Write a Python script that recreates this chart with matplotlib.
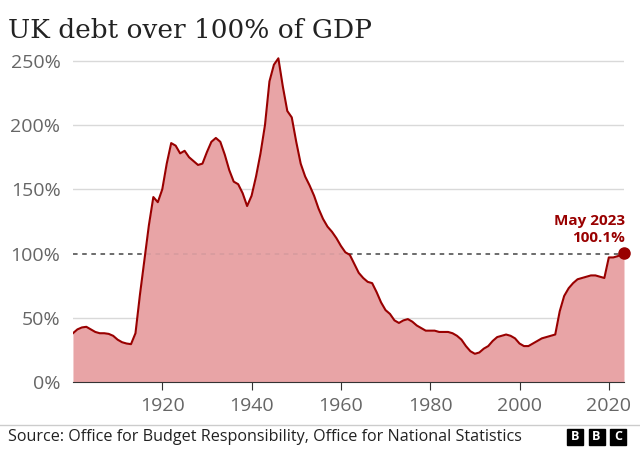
import matplotlib
matplotlib.use("Agg")
import matplotlib.pyplot as plt
from matplotlib.patches import Rectangle

plt.rcParams['font.family'] = ['Open Sans', 'DejaVu Sans']

# UK public sector net debt, % of GDP
years = [1900, 1901, 1902, 1903, 1904, 1905, 1906, 1907, 1908, 1909,
         1910, 1911, 1912, 1913, 1914, 1915, 1916, 1917, 1918, 1919,
         1920, 1921, 1922, 1923, 1924, 1925, 1926, 1927, 1928, 1929,
         1930, 1931, 1932, 1933, 1934, 1935, 1936, 1937, 1938, 1939,
         1940, 1941, 1942, 1943, 1944, 1945, 1946, 1947, 1948, 1949,
         1950, 1951, 1952, 1953, 1954, 1955, 1956, 1957, 1958, 1959,
         1960, 1961, 1962, 1963, 1964, 1965, 1966, 1967, 1968, 1969,
         1970, 1971, 1972, 1973, 1974, 1975, 1976, 1977, 1978, 1979,
         1980, 1981, 1982, 1983, 1984, 1985, 1986, 1987, 1988, 1989,
         1990, 1991, 1992, 1993, 1994, 1995, 1996, 1997, 1998, 1999,
         2000, 2001, 2002, 2003, 2004, 2005, 2006, 2007, 2008, 2009,
         2010, 2011, 2012, 2013, 2014, 2015, 2016, 2017, 2018, 2019,
         2020, 2021, 2022, 2023.4]
debt = [38, 41, 42.5, 43, 41, 39, 38, 38, 37.5, 36,
        33, 31, 30, 29.5, 38, 68, 95, 122, 144, 140,
        150, 170, 186, 184, 178, 180, 175, 172, 169, 170,
        179, 187, 190, 187, 177, 165, 156, 154, 147, 137,
        145, 160, 178, 200, 234, 247, 252, 230, 211, 206,
        187, 170, 160, 153, 145, 135, 127, 121, 117, 112,
        106, 101, 99, 92, 85, 81, 78, 77, 70, 62,
        56, 53, 48, 46, 48, 49, 47, 44, 42, 40,
        40, 40, 39, 39, 39, 38, 36, 33, 28, 24,
        22, 23, 26, 28, 32, 35, 36, 37, 36, 34,
        30, 28, 28, 30, 32, 34, 35, 36, 37, 55,
        67, 73, 77, 80, 81, 82, 83, 83, 82, 81,
        97, 97, 98, 100.1]

x_ticks = [1920, 1940, 1960, 1980, 2000, 2020]
y_ticks = [0, 50, 100, 150, 200, 250]

line_col = '#990000'
fig = plt.figure(figsize=(6.4, 4.5), dpi=100)
ax = fig.add_axes([0.114, 0.151, 0.861, 0.728])

for v in [50, 150, 200, 250]:
    ax.axhline(v, color='#d9d9d9', lw=1, zorder=1)
ax.axhline(100, color='#444444', lw=1.1, ls=(0, (3, 3)), zorder=1)
area = ax.fill_between(years, debt, 0, color='#e8a4a6', lw=0, zorder=2)
# faint dashes showing through the shaded area
faint = ax.axhline(100, color='#d59a9d', lw=1.1, ls=(0, (3, 3)), zorder=2.5)
faint.set_clip_path(area.get_paths()[0], ax.transData)
ax.plot(years, debt, color=line_col, lw=1.5, zorder=3, solid_joinstyle='round')
ax.plot(years[-1], debt[-1], 'o', color=line_col, ms=8, zorder=4, clip_on=False)

ax.text(years[-1] + 0.2, 120, 'May 2023', color=line_col, fontsize=11, fontweight='bold',
        ha='right', va='bottom')
ax.text(years[-1] + 0.2, 107, '100.1%', color=line_col, fontsize=11, fontweight='bold',
        ha='right', va='bottom')

ax.set_xlim(1900, 2023.4)
ax.set_ylim(0, 255)
ax.set_xticks(x_ticks)
ax.set_yticks(y_ticks)
ax.set_yticklabels([f'{v}%' for v in y_ticks])
for s in ['top', 'right', 'left']:
    ax.spines[s].set_visible(False)
ax.spines['bottom'].set_color('#333333')
ax.spines['bottom'].set_zorder(5)
ax.tick_params(axis='y', length=0, pad=9, labelsize=14, labelcolor='#666666')
ax.tick_params(axis='x', length=6, color='#333333', pad=5, labelsize=14, labelcolor='#666666')

fig.text(0.0125, 1 - 30 / 450, 'UK debt over 100% of GDP', family='DejaVu Serif', fontsize=19,
         color='#222222', ha='left', va='center')

fig.add_artist(plt.Line2D([0, 1], [1 - 425 / 450] * 2, color='#cccccc', lw=1,
                          transform=fig.transFigure))
fig.text(0.0125, 1 - 437 / 450, 'Source: Office for Budget Responsibility, Office for National Statistics',
         fontsize=11.6, color='#222222', ha='left', va='center')

for i, letter in enumerate('BBC'):
    x0 = (567 + i * 21.5) / 640
    fig.add_artist(Rectangle((x0, 1 - 445 / 450), 16 / 640, 16 / 450,
                             transform=fig.transFigure, color='black'))
    fig.text(x0 + 8 / 640, 1 - 437 / 450, letter, color='white', fontsize=9,
             fontweight='bold', ha='center', va='center')

fig.savefig('out.png', dpi=100)
